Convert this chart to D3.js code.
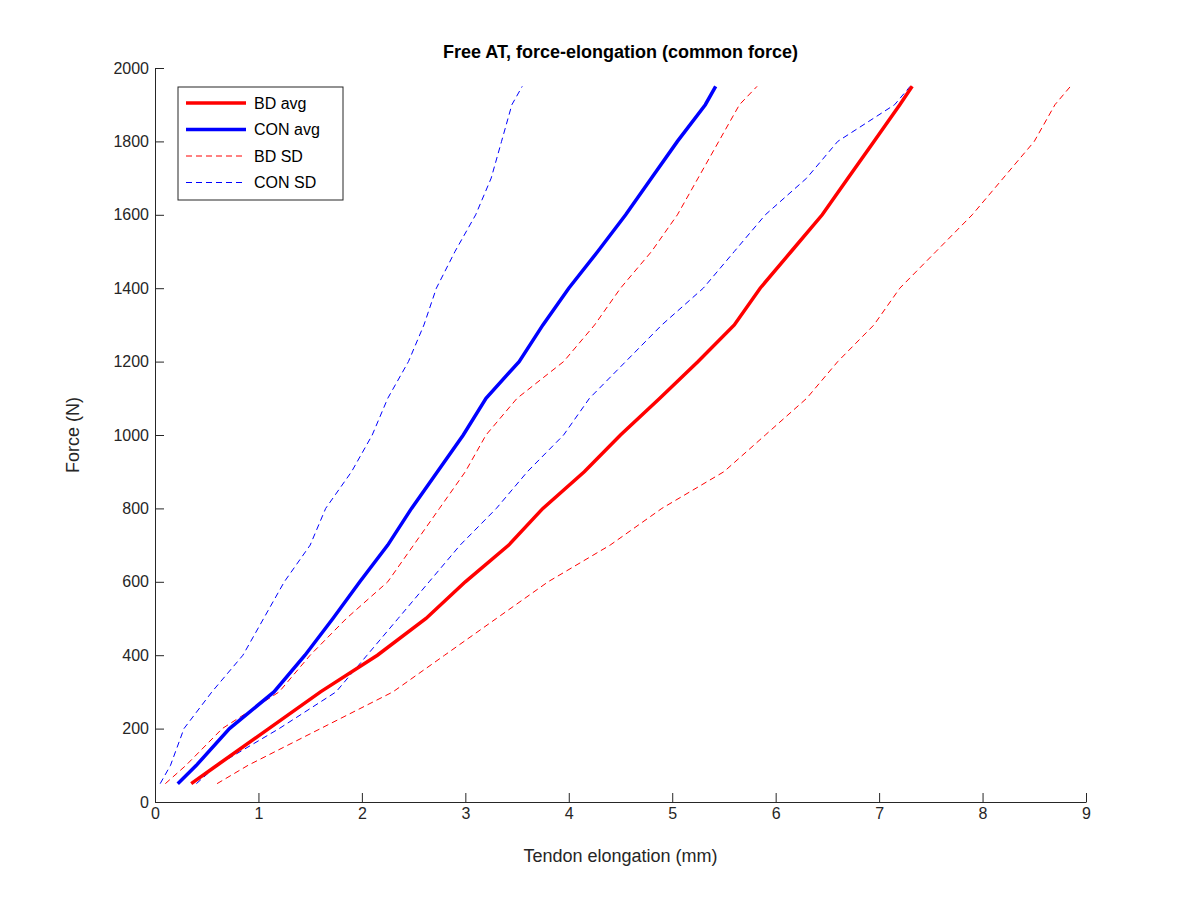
<!DOCTYPE html>
<html><head><meta charset="utf-8">
<script src="https://cdn.jsdelivr.net/npm/d3@7"></script>
<style>body{margin:0;background:#fff;font-family:Arial,"Liberation Sans",sans-serif;}</style>
</head><body><div class="chart"></div>
<script>
const force = [50,100,200,300,400,500,600,700,800,900,1000,1100,1200,1300,1400,1500,1600,1700,1800,1900,1950];
const bdAvg = [0.35,0.6,1.1,1.6,2.15,2.62,3.0,3.42,3.75,4.15,4.5,4.88,5.25,5.6,5.85,6.15,6.45,6.7,6.95,7.2,7.32];
const conAvg = [0.22,0.4,0.72,1.15,1.45,1.72,1.98,2.25,2.48,2.73,2.98,3.2,3.52,3.75,4.0,4.28,4.55,4.8,5.05,5.32,5.42];
const bdSdUp = [0.1,0.3,0.65,1.2,1.5,1.85,2.25,2.5,2.75,3.0,3.2,3.5,3.95,4.25,4.5,4.8,5.05,5.25,5.45,5.65,5.82];
const bdSdLo = [0.6,0.9,1.6,2.3,2.8,3.3,3.8,4.4,4.9,5.5,5.9,6.3,6.6,6.95,7.2,7.55,7.9,8.2,8.5,8.7,8.85];
const conSdUp = [0.05,0.15,0.28,0.55,0.85,1.05,1.25,1.5,1.65,1.9,2.1,2.25,2.45,2.6,2.72,2.9,3.1,3.25,3.35,3.45,3.55];
const conSdLo = [0.4,0.6,1.2,1.75,2.05,2.35,2.65,2.95,3.3,3.6,3.95,4.2,4.55,4.9,5.3,5.6,5.9,6.3,6.6,7.15,7.3];
const xTicks = d3.range(0, 10);
const yTicks = d3.range(0, 2001, 200);

const margin = {top: 68, right: 114, bottom: 98, left: 155},
  width = 1200 - margin.left - margin.right,
  height = 900 - margin.top - margin.bottom;

const svg = d3.select(".chart").append("svg")
  .attr("width", 1200).attr("height", 900)
  .append("g")
  .attr("transform", `translate(${margin.left},${margin.top})`);

const x = d3.scaleLinear().domain([0, 9]).range([0, width]);
const y = d3.scaleLinear().domain([0, 2000]).range([height, 0]);

const line = d3.line().x(d => x(d[0])).y(d => y(d[1]));

const series = [
  {vals: bdSdUp, color: "#ff0000", w: 1, dash: "6,4"},
  {vals: bdSdLo, color: "#ff0000", w: 1, dash: "6,4"},
  {vals: conSdUp, color: "#0000ff", w: 1, dash: "6,4"},
  {vals: conSdLo, color: "#0000ff", w: 1, dash: "6,4"},
  {vals: bdAvg, color: "#ff0000", w: 3.5, dash: null},
  {vals: conAvg, color: "#0000ff", w: 3.5, dash: null}
];
series.forEach(s => {
  svg.append("path")
    .datum(s.vals.map((v, i) => [v, force[i]]))
    .attr("fill", "none").attr("stroke", s.color)
    .attr("stroke-width", s.w).attr("stroke-dasharray", s.dash)
    .attr("d", line);
});

// axes
const xAxis = d3.axisBottom(x).tickValues(xTicks).tickSizeInner(-9).tickSizeOuter(0).tickPadding(6);
const yAxis = d3.axisLeft(y).tickValues(yTicks).tickFormat(d3.format("d")).tickSizeInner(-9).tickSizeOuter(0).tickPadding(6);
svg.append("g").attr("transform", `translate(0,${height})`).call(xAxis)
  .call(g => g.selectAll("text").attr("font-size", 16).attr("fill", "#262626"));
svg.append("g").call(yAxis)
  .call(g => g.selectAll("text").attr("font-size", 16).attr("fill", "#262626"));
svg.selectAll(".domain, .tick line").attr("stroke", "#262626");

svg.append("text").attr("x", width / 2).attr("y", height + 60)
  .attr("text-anchor", "middle").attr("font-size", 18).attr("fill", "#262626")
  .text("Tendon elongation (mm)");
svg.append("text").attr("transform", `translate(-76,${height / 2}) rotate(-90)`)
  .attr("text-anchor", "middle").attr("font-size", 18).attr("fill", "#262626")
  .text("Force (N)");
svg.append("text").attr("x", width / 2).attr("y", -10)
  .attr("text-anchor", "middle").attr("font-size", 18).attr("font-weight", "bold")
  .text("Free AT, force-elongation (common force)");

// legend
const legend = [
  {name: "BD avg", color: "#ff0000", w: 3.5, dash: null},
  {name: "CON avg", color: "#0000ff", w: 3.5, dash: null},
  {name: "BD SD", color: "#ff0000", w: 1, dash: "6,4"},
  {name: "CON SD", color: "#0000ff", w: 1, dash: "6,4"}
];
const lg = svg.append("g").attr("transform", "translate(23,19)");
lg.append("rect").attr("width", 165).attr("height", 113)
  .attr("fill", "#fff").attr("stroke", "#262626").attr("stroke-width", 1);
legend.forEach((d, i) => {
  const yy = 16 + i * 26.5;
  lg.append("line").attr("x1", 8).attr("x2", 68).attr("y1", yy).attr("y2", yy)
    .attr("stroke", d.color).attr("stroke-width", d.w).attr("stroke-dasharray", d.dash);
  lg.append("text").attr("x", 76).attr("y", yy + 5.5).attr("font-size", 16)
    .attr("fill", "#000").text(d.name);
});
</script></body></html>
